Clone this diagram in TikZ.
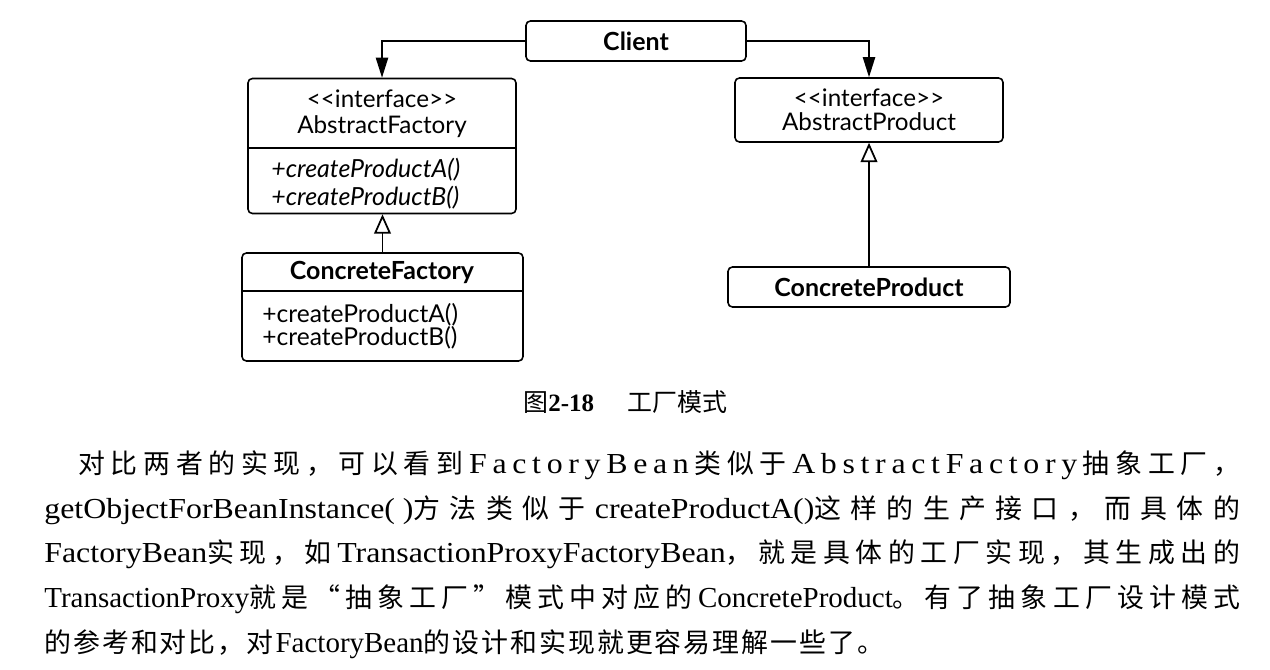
\documentclass[tikz,border=0pt]{standalone}
\usepackage{fontspec}
\setmainfont{Liberation Serif}
\newfontfamily\widef{Liberation Serif}[FakeStretch=1.1]
\newfontfamily\cjkf{Noto Sans CJK SC}
\newfontfamily\umlf{Lato}
\usetikzlibrary{arrows.meta}
\newcommand\pxu{0.02cm}
\ExplSyntaxOn
\NewDocumentCommand \CS { m } { { \cjkf \fontsize{15.3}{18}\selectfont \tl_map_inline:nn {#1} { ##1 \hfil } } }
\NewDocumentCommand \LS { m } { \tl_map_inline:nn {#1} { ##1 \hfil } }
\ExplSyntaxOff
\newcommand\ifc{<\kern0pt<interface>\kern0pt>}
\newcommand\W[1]{{\widef #1}}
\begin{document}
\begin{tikzpicture}[x=0.02cm,y=-0.02cm,
  box/.style={draw, line width=0.9pt, rounded corners=2.5pt, inner sep=0pt, fill=white},
  umlt/.style={font=\umlf\fontsize{14}{15}\selectfont, inner sep=0pt},
  umlb/.style={font=\umlf\bfseries\fontsize{14.2}{15}\selectfont, inner sep=0pt},
  divider/.style={line width=0.9pt},
  assoc/.style={line width=1pt, -{Triangle[length=11.5pt,width=7pt]}},
  realize/.style={line width=1pt, -{Triangle[open,length=11pt,width=9.5pt,fill=white]}},
  para/.style={font=\fontsize{16.5}{20}\selectfont, inner sep=0pt, anchor=base west},
  capt/.style={font=\fontsize{14.2}{16}\selectfont, inner sep=0pt, anchor=base west}]
\useasboundingbox (0,0) rectangle (1270,669);

% boxes
\node[box, umlb, minimum width={220*\pxu}, minimum height={40*\pxu}] (client) at (636,41) {Client};

\node[box, minimum width={268*\pxu}, minimum height={135*\pxu}] (af) at (382,146) {};
\coordinate (afdiv) at (0,148);
\draw[divider] (af.west |- afdiv) -- (af.east |- afdiv);
\node[umlt, align=center, font=\umlf\fontsize{13.8}{14.7}\selectfont] (afhead) at (382,114) {\ifc\\AbstractFactory};
\node[umlt, align=left, anchor=west, font=\umlf\itshape\fontsize{14.2}{15.9}\selectfont] (afops) at (271,184) {+createProductA()\\+createProductB()};

\node[box, minimum width={268*\pxu}, minimum height={64*\pxu}] (ap) at (869,110) {};
\node[umlt, align=center, font=\umlf\fontsize{13.8}{13.6}\selectfont] (aphead) at (869,110) {\ifc\\AbstractProduct};

\node[box, minimum width={281*\pxu}, minimum height={108*\pxu}] (cf) at (382.5,307) {};
\coordinate (cfdiv) at (0,291);
\draw[divider] (cf.west |- cfdiv) -- (cf.east |- cfdiv);
\node[umlb] (cfname) at (382,272) {ConcreteFactory};
\node[umlt, align=left, anchor=west, font=\umlf\fontsize{14}{13}\selectfont] (cfops) at (262,326.5) {+createProductA()\\+createProductB()};

\node[box, umlb, minimum width={282*\pxu}, minimum height={40*\pxu}] (cp) at (869,287) {ConcreteProduct};

% connectors
\draw[assoc] (client.west) -| (af.north);
\draw[assoc] (client.east) -| (ap.north);
\draw[realize] (cf.north) -- (cf.north |- af.south);
\draw[realize] (cp.north) -- (ap.south);

% caption
\node[capt] (cap1) at (523,411) {{\cjkf 图}\textbf{2-18}};
\node[capt] (cap2) at (627,411) {\cjkf 工厂模式};

% paragraph
\node[para] (p1) at (78,473) {\makebox[23.24cm][s]{\CS{对比两者的实现，可以看到}\W{\LS{FactoryBean}}\CS{类似于}\W{\LS{AbstractFactory}}\CS{抽象工厂，}\unskip}};
\node[para] (p2) at (44,518) {\makebox[23.92cm][s]{\W{getObjectForBeanInstance(\ )}\CS{方法类似于}\W{createProductA()}\CS{这样的生产接口，而具体的}\unskip}};
\node[para] (p3) at (44,562) {\makebox[23.92cm][s]{\W{FactoryBean}\CS{实现，如}\W{TransactionProxyFactoryBean}\CS{，就是具体的工厂实现，其生成出的}\unskip}};
\node[para] (p4) at (44,607) {\makebox[23.92cm][s]{TransactionProxy\CS{就是“抽象工厂”模式中对应的}ConcreteProduct\CS{。有了抽象工厂设计模式}\unskip}};
\node[para] (p5) at (44,652) {\makebox[16.8cm][s]{\CS{的参考和对比，对}FactoryBean\CS{的设计和实现就更容易理解一些了。}\unskip}};
\end{tikzpicture}
\end{document}
